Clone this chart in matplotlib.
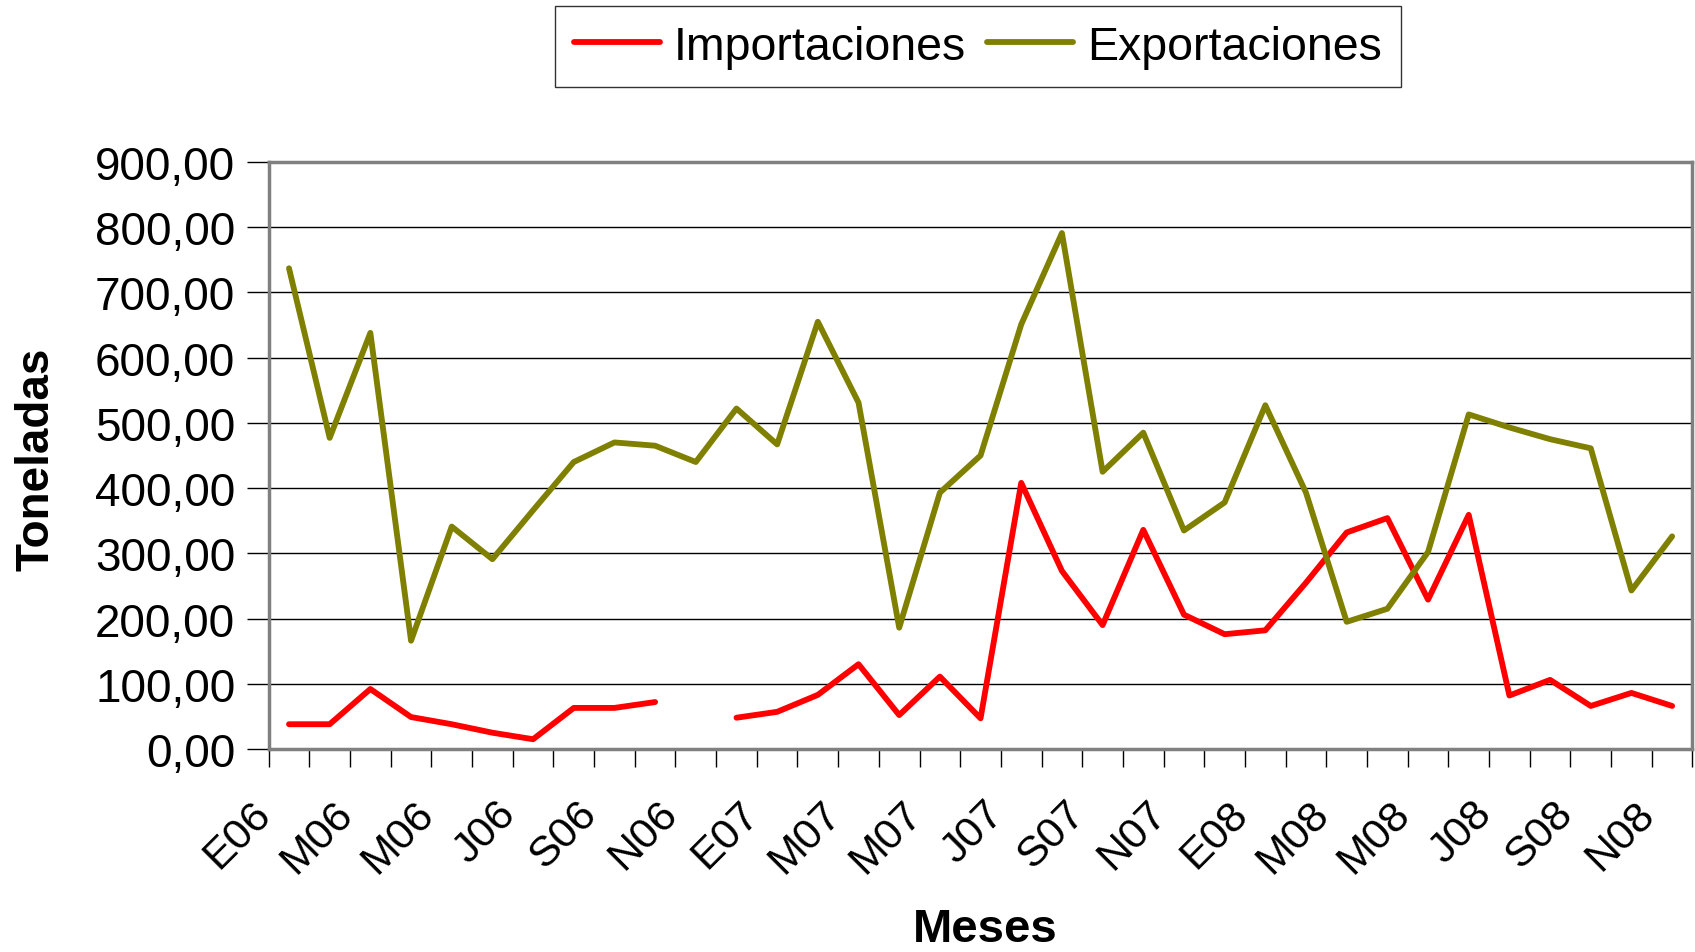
import numpy as np
import matplotlib
matplotlib.use("Agg")
import matplotlib.pyplot as plt
from matplotlib.ticker import FuncFormatter, FixedLocator
from matplotlib.transforms import ScaledTranslation

plt.rcParams['font.family'] = ['Liberation Sans', 'DejaVu Sans']

# months Jan 2006 .. Nov 2008 (35 months), labels every second month
month_labels = ["E06", "M06", "M06", "J06", "S06", "N06",
                "E07", "M07", "M07", "J07", "S07", "N07",
                "E08", "M08", "M08", "J08", "S08", "N08"]

importaciones = [38, 38, 92, 49, 38, 25, 15, 63, 63, 72,
                 np.nan, 48, 57, 83, 130, 52, 111, 47, 408, 273,
                 190, 336, 206, 176, 182, 255, 332, 354, 229, 359,
                 82, 106, 66, 86, 66]

exportaciones = [737, 477, 638, 166, 341, 291, 366, 440, 470, 465,
                 440, 522, 467, 655, 531, 186, 393, 450, 651, 791,
                 425, 485, 335, 378, 527, 393, 195, 215, 302, 513,
                 493, 475, 461, 243, 326]

n = len(exportaciones)
x = np.arange(n)

fig = plt.figure(figsize=(16.95, 9.53), dpi=100)
ax = fig.add_axes([0.1585, 0.213, 0.840, 0.616])

ax.plot(x, importaciones, color="#FF0000", lw=4.2, label="Importaciones",
        solid_capstyle="round", solid_joinstyle="round", zorder=3)
ax.plot(x, exportaciones, color="#808000", lw=4.2, label="Exportaciones",
        solid_capstyle="round", solid_joinstyle="round", zorder=3)

ax.set_xlim(-0.5, n - 0.5)
ax.set_ylim(0, 900)
ax.set_yticks(np.arange(0, 901, 100))
ax.yaxis.set_major_formatter(FuncFormatter(lambda v, p: f"{v:.2f}".replace(".", ",")))
ax.grid(axis="y", color="black", lw=1.0)
ax.set_axisbelow(True)

# tick marks between categories, labels on every second category
ax.xaxis.set_major_locator(FixedLocator(np.arange(-0.5, n, 1.0)))
ax.set_xticklabels([])
ax.set_xticks(np.arange(0, n, 2), minor=True)
ax.set_xticklabels(month_labels, minor=True, rotation=45, ha="right",
                   va="center", rotation_mode="anchor", fontsize=31)
ax.tick_params(axis="x", which="minor", length=0, pad=0)
ax.tick_params(axis="x", which="major", length=13, width=1, color="black")
ax.tick_params(axis="y", length=16, width=1, color="black", labelsize=33, pad=8)
shift = ScaledTranslation(-24 / 100, -58 / 100, fig.dpi_scale_trans)
for lab in ax.get_xticklabels(minor=True):
    lab.set_transform(lab.get_transform() + shift)

for s in ax.spines.values():
    s.set_color("#808080")
    s.set_linewidth(2.5)

fig.text(37 / 1695, 1 - 459 / 953, "Toneladas", rotation=90, fontsize=33,
         fontweight="bold", ha="center", va="center")
fig.text(985 / 1695, 1 - 930 / 953, "Meses", fontsize=34,
         fontweight="bold", ha="center", va="center")

leg = fig.legend(loc="center", bbox_to_anchor=(0.577, 0.950), ncol=2,
                 fontsize=33.5, frameon=True, fancybox=False, edgecolor="black",
                 handlelength=1.85, handletextpad=0.3, columnspacing=0.45,
                 borderpad=0.4, borderaxespad=0)
leg.get_frame().set_linewidth(1.0)
for h in leg.get_lines():
    h.set_linewidth(4.2)

fig.savefig("out.png", dpi=100)
